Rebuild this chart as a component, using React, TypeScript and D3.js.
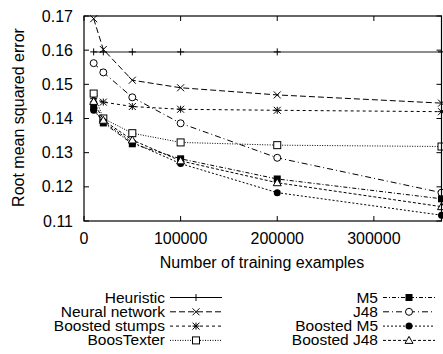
import * as React from 'react'
import {scaleLinear, line} from 'd3'

// training set sizes (x) and RMSE per method
const sizes = [10000, 20000, 50000, 100000, 200000, 370000]
const heuristic = [0.1595, 0.1595, 0.1595, 0.1595, 0.1595, 0.1595]
const neuralNetwork = [0.1692, 0.1602, 0.1512, 0.149, 0.1469, 0.1445]
const boostedStumps = [0.1458, 0.1448, 0.1435, 0.1427, 0.1424, 0.142]
const boosTexter = [0.1473, 0.14, 0.1357, 0.133, 0.1322, 0.1318]
const m5 = [0.1433, 0.1387, 0.1326, 0.1282, 0.1223, 0.1165]
const j48 = [0.1562, 0.1535, 0.1462, 0.1386, 0.1285, 0.1183]
const boostedM5 = [0.1424, 0.1391, 0.133, 0.1268, 0.1183, 0.1117]
const boostedJ48 = [0.145, 0.1395, 0.1337, 0.1276, 0.1212, 0.1142]

const xTicks = [0, 100000, 200000, 300000]
const yTicks = [0.11, 0.12, 0.13, 0.14, 0.15, 0.16, 0.17]

const series = [
  {name: 'Heuristic', values: heuristic, dash: '', marker: 'plus', col: 0},
  {name: 'Neural network', values: neuralNetwork, dash: '6,3', marker: 'cross', col: 0},
  {name: 'Boosted stumps', values: boostedStumps, dash: '3,3', marker: 'star', col: 0},
  {name: 'BoosTexter', values: boosTexter, dash: '1,1.5', marker: 'square', col: 0},
  {name: 'M5', values: m5, dash: '4,2,1,2', marker: 'fsquare', col: 1},
  {name: 'J48', values: j48, dash: '6,3,1,3', marker: 'circle', col: 1},
  {name: 'Boosted M5', values: boostedM5, dash: '2,2', marker: 'fcircle', col: 1},
  {name: 'Boosted J48', values: boostedJ48, dash: '3,2', marker: 'triangle', col: 1},
]

const font = "'Liberation Sans', Arial, Helvetica, sans-serif"
const fs = 16

function Marker({type, x, y}) {
  const s = 3.5
  const st = {stroke: '#000', strokeWidth: 1, fill: 'none'}
  switch (type) {
    case 'plus':
      return <path d={`M${x - s},${y}H${x + s}M${x},${y - s}V${y + s}`} {...st} />
    case 'cross':
      return <path d={`M${x - s},${y - s}L${x + s},${y + s}M${x - s},${y + s}L${x + s},${y - s}`} {...st} />
    case 'star':
      return <path d={`M${x - s},${y}H${x + s}M${x},${y - s}V${y + s}M${x - s},${y - s}L${x + s},${y + s}M${x - s},${y + s}L${x + s},${y - s}`} {...st} />
    case 'square':
      return <rect x={x - s} y={y - s} width={2 * s} height={2 * s} {...st} fill="#fff" />
    case 'fsquare':
      return <rect x={x - s} y={y - s} width={2 * s} height={2 * s} fill="#000" />
    case 'circle':
      return <circle cx={x} cy={y} r={s} {...st} fill="#fff" />
    case 'fcircle':
      return <circle cx={x} cy={y} r={s} fill="#000" />
    case 'triangle':
      return <path d={`M${x},${y - s - 0.5}L${x + s + 0.5},${y + s - 0.5}L${x - s - 0.5},${y + s - 0.5}Z`} {...st} fill="#fff" />
    default:
      return null
  }
}

export default function App() {
  const W = 443, H = 354
  const left = 84, right = 441.5, top = 16, bottom = 221
  const x = scaleLinear().domain([0, 370000]).range([left, right])
  const y = scaleLinear().domain([0.11, 0.17]).range([bottom, top])
  const tick = 5

  const legendX = [165, 378]
  const legendY = [297.5, 311.8, 326.1, 340.4]

  return (
    <svg width={W} height={H} style={{position: 'absolute', left: 0, top: 0, background: '#fff'}} fontFamily={font}>
      {/* ticks */}
      {xTicks.map(t => (
        <g key={'x' + t}>
          <line x1={x(t)} x2={x(t)} y1={bottom} y2={bottom - tick} stroke="#000" />
          <line x1={x(t)} x2={x(t)} y1={top} y2={top + tick} stroke="#000" />
          <text x={x(t)} y={244} fontSize={fs} textAnchor="middle">{t}</text>
        </g>
      ))}
      {yTicks.map(t => (
        <g key={'y' + t}>
          <line x1={left} x2={left + tick} y1={y(t)} y2={y(t)} stroke="#000" />
          <line x1={right} x2={right - tick} y1={y(t)} y2={y(t)} stroke="#000" />
          <text x={73} y={y(t) + 5.5} fontSize={fs} textAnchor="end">{t.toFixed(2)}</text>
        </g>
      ))}
      <text x={262} y={268} fontSize={fs} textAnchor="middle">Number of training examples</text>
      <text transform={`translate(24,117.5) rotate(-90)`} fontSize={fs} textAnchor="middle">Root mean squared error</text>

      {/* lines */}
      {series.map(s => {
        const pts = s.values.map((v, i) => [x(sizes[i]), y(v)])
        const d = line()(pts)
        return (
          <g key={s.name}>
            <path d={d} fill="none" stroke={s.marker === 'plus' ? '#666' : '#000'} strokeWidth={s.marker === 'plus' ? 1.5 : 1} strokeDasharray={s.dash} />
            {pts.map((p, i) => <Marker key={i} type={s.marker} x={p[0]} y={p[1]} />)}
          </g>
        )
      })}

      <rect x={left} y={top} width={right - left} height={bottom - top} fill="none" stroke="#000" strokeWidth={1.2} />

      {/* legend */}
      {series.map((s, i) => {
        const tx = legendX[s.col]
        const ly = legendY[i % 4]
        const x0 = tx + 5, x1 = x0 + 52
        return (
          <g key={'l' + s.name}>
            <text x={tx} y={ly + 5} fontSize={15.5} textAnchor="end">{s.name}</text>
            <line x1={x0} x2={x1} y1={ly} y2={ly} stroke="#000" strokeDasharray={s.dash} />
            <Marker type={s.marker} x={(x0 + x1) / 2} y={ly} />
          </g>
        )
      })}
    </svg>
  )
}
